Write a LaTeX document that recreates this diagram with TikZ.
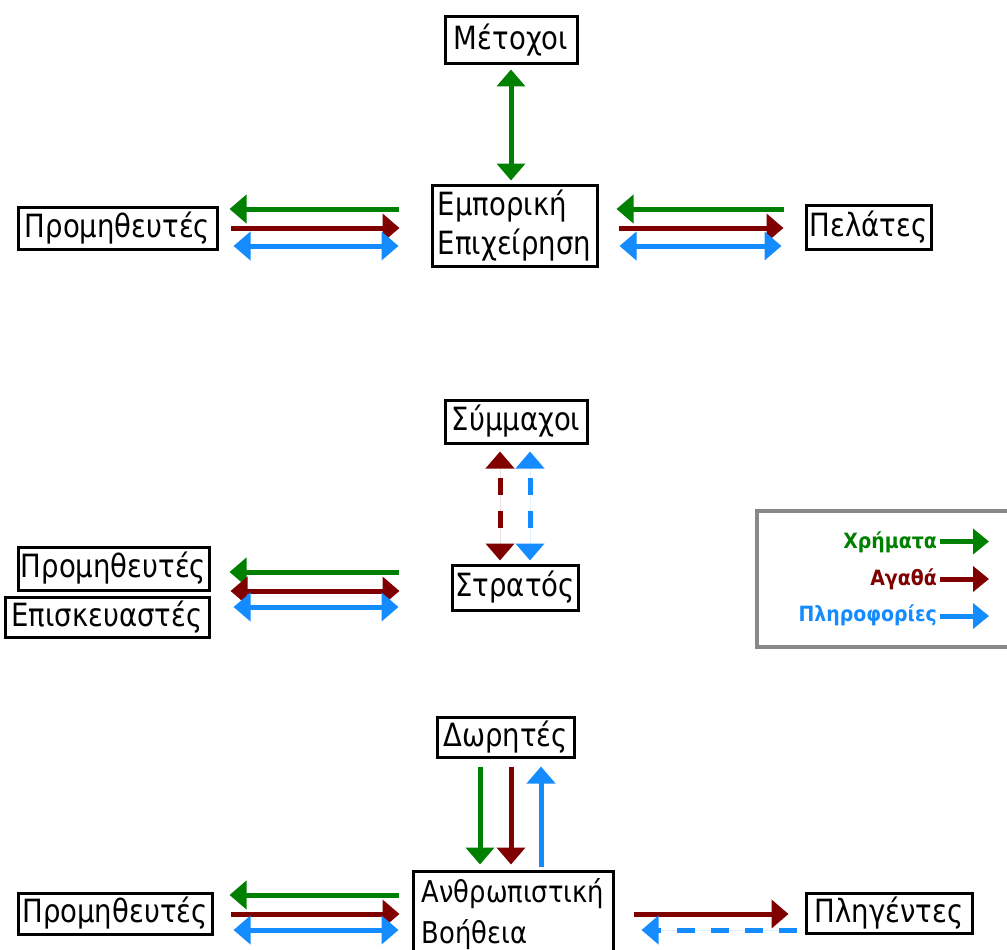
\documentclass[tikz,border=0pt]{standalone}
\usepackage{fontspec}
\setmainfont{DejaVu Sans}
\newfontfamily\boxfont{DejaVu Sans}[FakeStretch=0.86]
\newfontfamily\legfont{DejaVu Sans Bold}[FakeStretch=0.9]
\usetikzlibrary{arrows.meta}
\definecolor{mgreen}{RGB}{0,128,0}
\definecolor{mred}{RGB}{128,0,0}
\definecolor{mblue}{RGB}{20,140,255}
\definecolor{lgray}{RGB}{136,136,136}
\begin{document}
\begin{tikzpicture}[x=1pt,y=-1pt,
  box/.style={draw=black,line width=3pt,inner sep=0pt,font=\boxfont\fontsize{32}{39}\selectfont},
  flow/.style={line width=5pt},
  tip/.style={-{Triangle[length=17pt,width=28pt]}},
  both/.style={{Triangle[length=17pt,width=28pt]}-{Triangle[length=17pt,width=28pt]}},
  gr/.style={flow,draw=mgreen,fill=mgreen},
  rd/.style={flow,draw=mred,fill=mred},
  bl/.style={flow,draw=mblue,fill=mblue},
  dsh/.style={dash pattern=on 18pt off 16pt},
  vdsh/.style={dash pattern=on 17pt off 16pt,dash phase=22pt},
  leg/.style={inner sep=0pt,anchor=base east,font=\legfont\fontsize{21}{24}\selectfont}]
\useasboundingbox (0,0) rectangle (1007,950);

% ---------- top ----------
\node[box,minimum width=132pt,minimum height=47pt] (met) at (511,40.5) {Μέτοχοι};
\node[box,minimum width=165pt,minimum height=81pt,align=left] (emp) at (514.5,225.5) {Εμπορική\\Επιχείρηση};
\node[box,minimum width=199pt,minimum height=42pt] (prom1) at (117.5,228) {Προμηθευτές};
\node[box,minimum width=125pt,minimum height=44pt] (pel) at (868.5,227) {Πελάτες};

\draw[gr,both,shorten <=4pt,shorten >=3pt] (met.south) -- (emp.north -| met.south);
\draw[gr,tip,shorten <=32pt,shorten >=11pt] (emp.west |- 0,209) -- (prom1.east |- 0,209);
\draw[rd,tip,shorten <=12pt,shorten >=31pt] (prom1.east |- 0,228) -- (emp.west |- 0,228);
\draw[bl,both,shorten <=15pt,shorten >=32pt] (prom1.east |- 0,246) -- (emp.west |- 0,246);
\draw[gr,tip,shorten <=21pt,shorten >=18pt] (pel.west |- 0,209) -- (emp.east |- 0,209);
\draw[rd,tip,shorten <=20pt,shorten >=21pt] (emp.east |- 0,228) -- (pel.west |- 0,228);
\draw[bl,both,shorten <=21pt,shorten >=23pt] (emp.east |- 0,246) -- (pel.west |- 0,246);

% ---------- middle ----------
\node[box,minimum width=142pt,minimum height=43pt] (sym) at (516,421.5) {Σύμμαχοι};
\node[box,minimum width=126pt,minimum height=45pt] (str) at (515,587.5) {Στρατός};
\node[box,minimum width=191pt,minimum height=43pt] (prom2) at (113.5,568.5) {Προμηθευτές};
\node[box,minimum width=204pt,minimum height=40pt] (epi) at (107,617) {Επισκευαστές};

\draw[rd,both,vdsh,shorten <=7pt,shorten >=3pt] (sym.south -| 500,0) -- (str.north -| 500,0);
\draw[bl,both,vdsh,shorten <=7pt,shorten >=3pt] (sym.south -| 530,0) -- (str.north -| 530,0);
\draw[gr,tip,shorten <=52pt,shorten >=19pt] (str.west |- 0,572) -- (prom2.east |- 0,572);
\draw[rd,both,shorten <=20pt,shorten >=51pt] (prom2.east |- 0,591) -- (str.west |- 0,591);
\draw[bl,both,shorten <=23pt,shorten >=52pt] (epi.east |- 0,607) -- (str.west |- 0,607);

% ---------- legend ----------
\draw[line width=4pt,lgray] (757,511) rectangle (1015,647);
\node[leg,text=mgreen] (lm) at (937,548) {Χρήματα};
\node[leg,text=mred] (lg) at (937,585) {Αγαθά};
\node[leg,text=mblue] (li) at (937,621) {Πληροφορίες};
\coordinate (lme) at (989,541.5);
\coordinate (lge) at (989,579);
\coordinate (lie) at (989,616);
\draw[gr,-{Triangle[length=16pt,width=25pt]}] (lm.east |- lme) ++(3,0) -- (lme);
\draw[rd,-{Triangle[length=16pt,width=25pt]}] (lg.east |- lge) ++(3,0) -- (lge);
\draw[bl,-{Triangle[length=16pt,width=25pt]}] (li.east |- lie) ++(3,0) -- (lie);

% ---------- bottom ----------
\node[box,minimum width=137pt,minimum height=40pt] (dor) at (505.5,737) {Δωρητές};
\node[box,minimum width=200pt,minimum height=86pt,align=left,font=\boxfont\fontsize{30}{41}\selectfont] (anth) at (513,914) {Ανθρωπιστική\\Βοήθεια};
\node[box,minimum width=194pt,minimum height=41pt] (prom3) at (115,913.5) {Προμηθευτές};
\node[box,minimum width=166pt,minimum height=40pt] (plig) at (889,913) {Πληγέντες};

\draw[gr,tip,shorten <=8pt,shorten >=5pt] (dor.south -| 480,0) -- (anth.north -| 480,0);
\draw[rd,tip,shorten <=8pt,shorten >=5pt] (dor.south -| 511,0) -- (anth.north -| 511,0);
\draw[bl,tip,shorten <=3pt,shorten >=8pt] (anth.north -| 541,0) -- (dor.south -| 541,0);
\draw[gr,tip,shorten <=13pt,shorten >=16pt] (anth.west |- 0,895) -- (prom3.east |- 0,895);
\draw[rd,tip,shorten <=17pt,shorten >=12pt] (prom3.east |- 0,914) -- (anth.west |- 0,914);
\draw[bl,both,shorten <=20pt,shorten >=13pt] (prom3.east |- 0,930) -- (anth.west |- 0,930);
\draw[rd,tip,shorten <=19pt,shorten >=16pt] (anth.east |- 0,914) -- (plig.west |- 0,914);
\draw[bl,tip,dsh,shorten <=8pt,shorten >=27pt] (plig.west |- 0,930) -- (anth.east |- 0,930);
\end{tikzpicture}
\end{document}
